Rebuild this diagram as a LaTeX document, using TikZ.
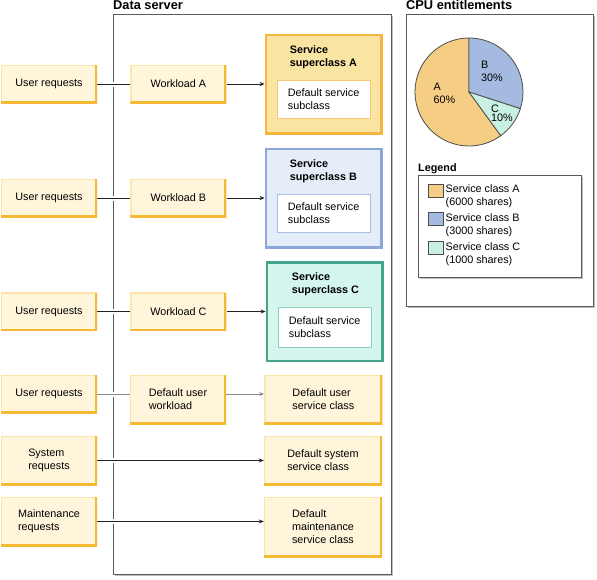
\documentclass[tikz,border=0pt]{standalone}
\usepackage{fontspec}
\setmainfont{Liberation Sans}
\usetikzlibrary{positioning,shadows,arrows.meta}

\definecolor{reqfill}{HTML}{FEF5DA}
\definecolor{reqlight}{HTML}{FCE4A6}
\definecolor{reqdark}{HTML}{F5B934}
\definecolor{supAfill}{HTML}{F9E4A4}
\definecolor{supAedge}{HTML}{F5B53F}
\definecolor{subAedge}{HTML}{F8C775}
\definecolor{supBfill}{HTML}{E5EDF8}
\definecolor{supBedge}{HTML}{8CA7D8}
\definecolor{subBedge}{HTML}{A9BFE6}
\definecolor{supCfill}{HTML}{D5F6EE}
\definecolor{supCedge}{HTML}{44A58C}
\definecolor{subCedge}{HTML}{8ED0BE}
\definecolor{pieA}{HTML}{F6CD85}
\definecolor{pieB}{HTML}{A4BAE0}
\definecolor{pieC}{HTML}{C9F1E1}
\definecolor{pieedge}{HTML}{4D4D4D}
\definecolor{panelgray}{HTML}{5A5A5A}
\definecolor{linkgray}{HTML}{222222}
\definecolor{linklight}{HTML}{8A8A8A}

\begin{document}
\begin{tikzpicture}[x=1pt,y=1pt,font=\fontsize{10.8}{13}\selectfont,node distance=33pt]
   \tikzset{reqbox/.style = {rectangle, fill=reqfill, minimum width=96pt, minimum height=38pt, align=left, inner sep=2pt,
     path picture={
       \draw[reqlight, line width=2.5pt] (path picture bounding box.south west) |- (path picture bounding box.north east);
       \draw[reqdark, line width=4pt] (path picture bounding box.south west) -| (path picture bounding box.north east);
     }}, }
   \tikzset{svcbox/.style = {reqbox, minimum width=118pt, minimum height=49pt} }
   \tikzset{supbox/.style = {rectangle, line width=2.5pt, minimum width=115.5pt, minimum height=98.5pt} }
   \tikzset{subbox/.style = {rectangle, fill=white, line width=0.8pt, minimum width=93pt, minimum height=38pt, align=left} }
   \tikzset{suptitle/.style = {font=\fontsize{10.8}{13}\selectfont\bfseries, align=left, inner sep=0pt, anchor=west} }
   \tikzset{title/.style = {font=\fontsize{12.8}{15}\selectfont\bfseries, inner sep=0pt, anchor=base west} }
   \tikzset{panel/.style = {draw=panelgray, line width=0.9pt, fill=white,
     drop shadow={shadow xshift=1.5pt, shadow yshift=-1.5pt, fill=black, opacity=0.25}} }
   \tikzset{link/.style = {draw=linkgray, line width=0.8pt,
     preaction={draw=white, arrows=-, line width=5pt, shorten <=3pt, shorten >=3pt}} }
   \tikzset{arrow/.style = {link, -{Stealth[length=5pt, width=4pt]}} }
   \tikzset{swatch/.style = {rectangle, draw=pieedge, line width=0.8pt, minimum width=15pt, minimum height=13pt, inner sep=0pt} }
   \tikzset{legtext/.style = {align=left, inner sep=0pt, anchor=west} }

   \useasboundingbox (0,0) rectangle (597,-579);

   % panels
   \draw[panel] (113,-14) rectangle (391,-574);
   \draw[panel] (406,-14) rectangle (593,-306);
   \node[title] (dsTitle) at (113,-9.5) {Data server};
   \node[title] (cpuTitle) at (406,-9.5) {CPU entitlements};

   % requests, workloads, service classes
   \node[reqbox] (ureqA) at (49,-84) {User requests};
   \node[reqbox, right=of ureqA] (wlA) {Workload A};
   \node[supbox, fill=supAfill, draw=supAedge, right=38pt of wlA] (supA) {};
   \node[suptitle] (titA) at ([xshift=25pt,yshift=-23.5pt]supA.north west) {Service\\superclass A};
   \node[subbox, draw=subAedge] (subA) at ([yshift=-15.5pt]supA.center) {Default service\\subclass};

   \node[reqbox] (ureqB) at (49,-198) {User requests};
   \node[reqbox, right=of ureqB] (wlB) {Workload B};
   \node[supbox, fill=supBfill, draw=supBedge, right=38pt of wlB] (supB) {};
   \node[suptitle] (titB) at ([xshift=25pt,yshift=-23.5pt]supB.north west) {Service\\superclass B};
   \node[subbox, draw=subBedge] (subB) at ([yshift=-15.5pt]supB.center) {Default service\\subclass};

   \node[reqbox] (ureqC) at (49,-311.5) {User requests};
   \node[reqbox, right=of ureqC] (wlC) {Workload C};
   \node[supbox, fill=supCfill, draw=supCedge, right=39pt of wlC] (supC) {};
   \node[suptitle] (titC) at ([xshift=26pt,yshift=-23.5pt]supC.north west) {Service\\superclass C};
   \node[subbox, draw=subCedge, minimum height=40pt] (subC) at ([yshift=-15.5pt]supC.center) {Default service\\subclass};

   \node[reqbox] (ureqD) at (49,-394) {User requests};
   \node[reqbox, minimum height=49pt] (wlD) at (178,-399.5) {Default user\\workload};
   \node[svcbox, right=38pt of wlD] (svcD) {Default user\\service class};

   \node[reqbox, minimum height=49pt] (sysreq) at (49,-460.5) {System\\requests};
   \node[svcbox] (svcSys) at (323,-460.5) {Default system\\service class};

   \node[reqbox, minimum height=49pt] (mntreq) at (49,-521.5) {Maintenance\\requests};
   \node[svcbox, minimum height=60pt] (svcMnt) at (323,-527) {Default\\maintenance\\service class};

   % request flows
   \draw[link] (ureqA.east) -- (ureqA.east -| wlA.west);
   \draw[arrow] (wlA.east) -- (wlA.east -| supA.west);
   \draw[link] (ureqB.east) -- (ureqB.east -| wlB.west);
   \draw[arrow] (wlB.east) -- (wlB.east -| supB.west);
   \draw[link] (ureqC.east) -- (ureqC.east -| wlC.west);
   \draw[arrow] (wlC.east) -- (wlC.east -| supC.west);
   \draw[link, draw=linklight] (ureqD.east) -- (ureqD.east -| wlD.west);
   \draw[arrow, draw=linklight] (ureqD.east -| wlD.east) -- (ureqD.east -| svcD.west);
   \draw[arrow] (sysreq.east) -- (sysreq.east -| svcSys.west);
   \draw[arrow] (mntreq.east) -- (mntreq.east -| svcMnt.west);

   % CPU entitlements pie
   \coordinate (pie) at (469,-92);
   \filldraw[draw=pieedge, line width=0.8pt, fill=pieA] (pie) -- ++(90:54) arc[start angle=90, end angle=306, radius=54] -- cycle;
   \filldraw[draw=pieedge, line width=0.8pt, fill=pieB] (pie) -- ++(90:54) arc[start angle=90, end angle=-18, radius=54] -- cycle;
   \filldraw[draw=pieedge, line width=0.8pt, fill=pieC] (pie) -- ++(-18:54) arc[start angle=-18, end angle=-54, radius=54] -- cycle;
   \node[align=left, inner sep=0pt] (lblA) at (444.5,-93.5) {A\\60\%};
   \node[align=left, inner sep=0pt] (lblB) at (492,-71.5) {B\\30\%};
   \node[align=left, inner sep=0pt] (lblC) at (502,-113.5) {C\\[-3.5pt]10\%};

   % legend
   \node[title, font=\fontsize{10.8}{13}\selectfont\bfseries] (legTitle) at (418,-171) {Legend};
   \draw[panel] (418,-175) rectangle (581,-277);
   \node[swatch, fill=pieA] (swA) at (435.5,-190.5) {};
   \node[swatch, fill=pieB] (swB) at (435.5,-219) {};
   \node[swatch, fill=pieC] (swC) at (435.5,-247.5) {};
   \node[legtext] (legA) at (445.5,-196.5) {Service class A\\(6000 shares)};
   \node[legtext] (legB) at (445.5,-225) {Service class B\\(3000 shares)};
   \node[legtext] (legC) at (445.5,-254) {Service class C\\(1000 shares)};
\end{tikzpicture}
\end{document}
